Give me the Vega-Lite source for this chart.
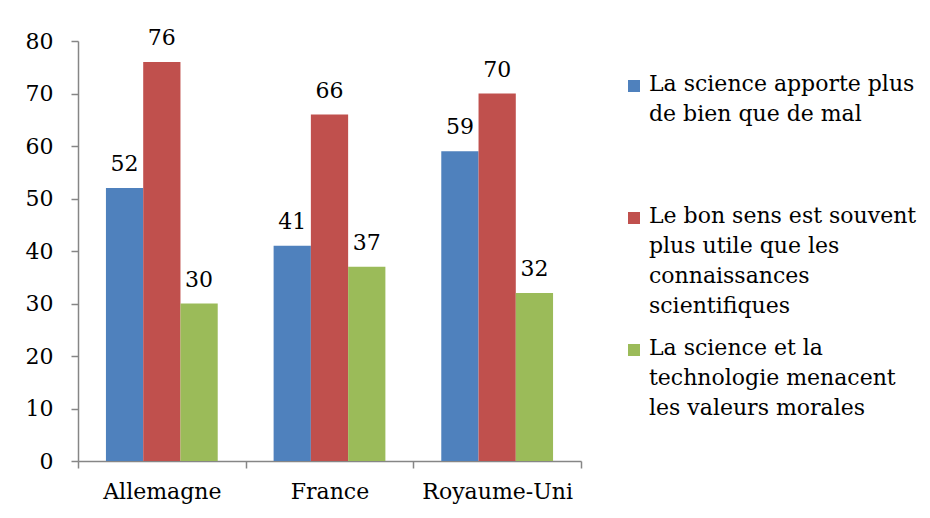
{
  "$schema": "https://vega.github.io/schema/vega-lite/v6.json",
  "width": 503,
  "height": 420,
  "autosize": "none",
  "padding": {"left": 78, "top": 41, "right": 349, "bottom": 57},
  "background": "white",
  "config": {
    "font": "DejaVu Serif",
    "view": {"stroke": null},
    "style": {"guide-label": {"lineHeight": 30}}
  },
  "data": {
    "values": [
      {"pays": "Allemagne", "serie": "La science apporte plus de bien que de mal", "valeur": 52},
      {"pays": "Allemagne", "serie": "Le bon sens est souvent plus utile que les connaissances scientifiques", "valeur": 76},
      {"pays": "Allemagne", "serie": "La science et la technologie menacent les valeurs morales", "valeur": 30},
      {"pays": "France", "serie": "La science apporte plus de bien que de mal", "valeur": 41},
      {"pays": "France", "serie": "Le bon sens est souvent plus utile que les connaissances scientifiques", "valeur": 66},
      {"pays": "France", "serie": "La science et la technologie menacent les valeurs morales", "valeur": 37},
      {"pays": "Royaume-Uni", "serie": "La science apporte plus de bien que de mal", "valeur": 59},
      {"pays": "Royaume-Uni", "serie": "Le bon sens est souvent plus utile que les connaissances scientifiques", "valeur": 70},
      {"pays": "Royaume-Uni", "serie": "La science et la technologie menacent les valeurs morales", "valeur": 32}
    ]
  },
  "encoding": {
    "x": {
      "field": "pays", "type": "nominal", "sort": null,
      "scale": {"paddingInner": 0, "paddingOuter": 0},
      "axis": {
        "title": null, "labelAngle": 0, "labelFontSize": 22, "labelColor": "black",
        "domainColor": "#868686", "domainWidth": 1.5, "tickColor": "#868686", "tickWidth": 1.5,
        "tickSize": 7, "tickBand": "extent", "labelPadding": 13
      }
    },
    "xOffset": {
      "field": "serie", "type": "nominal",
      "sort": ["La science apporte plus de bien que de mal", "Le bon sens est souvent plus utile que les connaissances scientifiques", "La science et la technologie menacent les valeurs morales"],
      "scale": {"paddingInner": 0, "paddingOuter": 0.75}
    },
    "y": {
      "field": "valeur", "type": "quantitative",
      "scale": {"domain": [0, 80], "nice": false},
      "axis": {
        "title": null, "values": [0, 10, 20, 30, 40, 50, 60, 70, 80], "grid": false,
        "labelFontSize": 22, "labelColor": "black", "labelPadding": 18,
        "domainColor": "#868686", "domainWidth": 1.5, "tickColor": "#868686", "tickWidth": 1.5, "tickSize": 7
      }
    }
  },
  "layer": [
    {
      "mark": {"type": "bar"},
      "encoding": {
        "color": {
          "field": "serie", "type": "nominal",
          "scale": {
            "domain": ["La science apporte plus de bien que de mal", "Le bon sens est souvent plus utile que les connaissances scientifiques", "La science et la technologie menacent les valeurs morales"],
            "range": ["#4F81BD", "#C0504D", "#9BBB59"]
          },
          "legend": {
            "title": null, "orient": "none", "legendX": 545, "legendY": 34,
            "padding": 0, "symbolType": "square", "symbolSize": 144, "symbolStrokeWidth": 0,
            "labelFontSize": 22, "labelColor": "black", "labelLimit": 400, "labelOffset": 4,
            "labelBaseline": "top", "gridAlign": "all", "rowPadding": 20,
            "labelExpr": "datum.label == 'La science apporte plus de bien que de mal' ? ['La science apporte plus', 'de bien que de mal'] : datum.label == 'Le bon sens est souvent plus utile que les connaissances scientifiques' ? ['Le bon sens est souvent', 'plus utile que les', 'connaissances', 'scientifiques'] : ['La science et la', 'technologie menacent', 'les valeurs morales']",
            "encode": {"labels": {"update": {"dy": {"value": -12}}}}
          }
        }
      }
    },
    {
      "mark": {"type": "text", "fontSize": 22, "color": "black", "baseline": "alphabetic", "dy": -17},
      "encoding": {"text": {"field": "valeur", "type": "quantitative"}}
    }
  ]
}
